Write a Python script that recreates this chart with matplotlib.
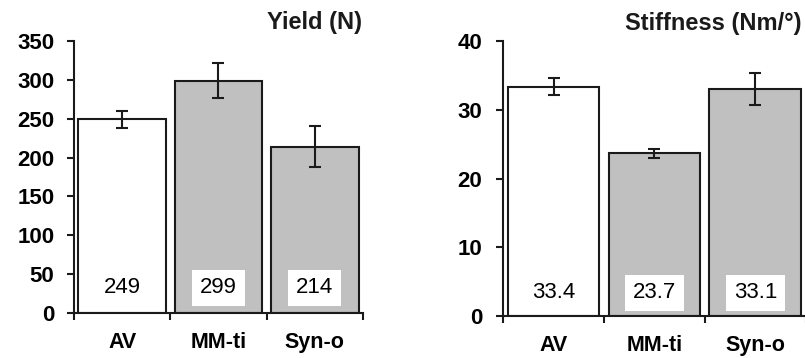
import numpy as np
import matplotlib
matplotlib.use("Agg")
import matplotlib.pyplot as plt
import matplotlib.transforms as mtransforms

plt.rcParams['font.family'] = ['Liberation Sans', 'DejaVu Sans']

# data
groups = ['AV', 'MM-ti', 'Syn-o']
yield_n = [249, 299, 214]
yield_err = [11, 23, 26]
stiff = [33.4, 23.7, 33.1]
stiff_err = [1.2, 0.7, 2.3]
yield_ticks = [0, 50, 100, 150, 200, 250, 300, 350]
stiff_ticks = [0, 10, 20, 30, 40]

fills = ['white', '#c0c0c0', '#c0c0c0']
col = '#1a1a1a'

fig = plt.figure(figsize=(8.05, 3.58), dpi=100)
ax1 = fig.add_axes([0.0919, 0.1257, 0.359, 0.760])
ax2 = fig.add_axes([0.6250, 0.1173, 0.3760, 0.767])


def panel(ax, vals, errs, ticks, labels_txt, ypad, label_y):
    x = np.arange(len(groups))
    ax.bar(x, vals, width=0.91, color=fills, edgecolor=col, linewidth=1.5, zorder=2)
    ax.errorbar(x, vals, yerr=errs, fmt='none', ecolor=col, elinewidth=1.5,
                capsize=4, capthick=1.5, zorder=3)
    ax.set_xlim(-0.5, 2.5)
    ax.set_ylim(ticks[0], ticks[-1])
    ax.set_yticks(ticks)
    ax.set_xticks(x)
    ax.set_xticklabels(groups, fontweight='bold', fontsize=15.5)
    ax.set_xticks([-0.5, 0.5, 1.5, 2.5], minor=True)
    for s in ['top', 'right']:
        ax.spines[s].set_visible(False)
    for s in ['left', 'bottom']:
        ax.spines[s].set_linewidth(1.5)
        ax.spines[s].set_color(col)
    ax.tick_params(axis='y', direction='out', length=5, width=1.5, color=col,
                   pad=ypad, labelsize=16)
    ax.tick_params(axis='x', which='major', length=0, pad=14)
    ax.tick_params(axis='x', which='minor', direction='out', length=5, width=1.5, color=col)
    for lab in ax.get_yticklabels():
        lab.set_fontweight('bold')
    trans = mtransforms.blended_transform_factory(ax.transData, ax.transAxes)
    for xi, t in zip(x, labels_txt):
        ax.text(xi, label_y, t, transform=trans, ha='center', va='center',
                fontsize=16, color='black',
                bbox=dict(boxstyle='square,pad=0.35', fc='white', ec='none'),
                zorder=4)
    ax.patch.set_alpha(0)


panel(ax1, yield_n, yield_err, yield_ticks, [str(v) for v in yield_n], 9, 0.092)
panel(ax2, stiff, stiff_err, stiff_ticks, ['%.1f' % v for v in stiff], 10, 0.084)
for ax in (ax1, ax2):
    ax.spines['bottom'].set_bounds(-0.5, 2.5)

fig.text(0.450, 0.936, 'Yield (N)', ha='right', va='center',
         fontsize=17, fontweight='bold', color=col)
fig.text(0.996, 0.933, 'Stiffness (Nm/°)', ha='right', va='center',
         fontsize=17, fontweight='bold', color=col)

fig.savefig('out.png', dpi=100)
